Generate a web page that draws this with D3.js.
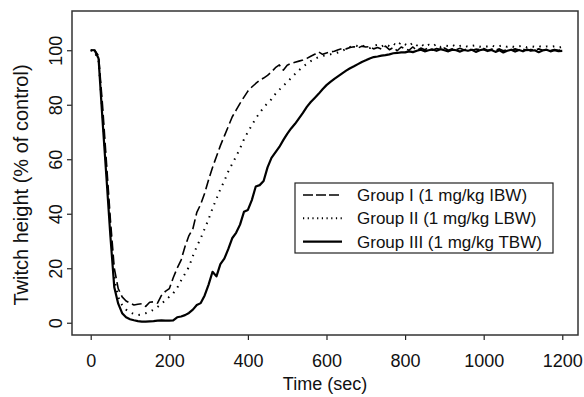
<!DOCTYPE html>
<html>
<head>
<meta charset="utf-8">
<script src="https://cdn.jsdelivr.net/npm/d3@7"></script>
<style>
  body { margin: 0; background: #fff; }
  text { font-family: "Liberation Sans", Arial, sans-serif; fill: #111; }
</style>
</head>
<body>
<div id="chart"></div>
<script>
// sampling times (sec), one reading every 10 s
const times = [
  0, 10, 20, 30, 40, 50, 60, 70, 80, 90, 100, 110, 120, 130, 140, 150, 160, 170, 180, 190,
  200, 210, 220, 230, 240, 250, 260, 270, 280, 290, 300, 310, 320, 330, 340, 350, 360, 370, 380, 390,
  400, 410, 420, 430, 440, 450, 460, 470, 480, 490, 500, 510, 520, 530, 540, 550, 560, 570, 580, 590,
  600, 610, 620, 630, 640, 650, 660, 670, 680, 690, 700, 710, 720, 730, 740, 750, 760, 770, 780, 790,
  800, 810, 820, 830, 840, 850, 860, 870, 880, 890, 900, 910, 920, 930, 940, 950, 960, 970, 980, 990,
  1000, 1010, 1020, 1030, 1040, 1050, 1060, 1070, 1080, 1090, 1100, 1110, 1120, 1130, 1140, 1150, 1160, 1170, 1180, 1190,
  1200
];

// Group I (1 mg/kg IBW) - dashed
const groupI = [
  100, 100, 98, 80, 59, 38, 20, 12.5, 9.5, 8, 7.2, 6.5, 6.8, 7, 6, 7.5, 7.7, 7.2, 10, 11.5,
  12.5, 16.5, 20, 23, 28, 32, 34.5, 40.5, 43.5, 47.5, 52.5, 57, 61, 65, 68.5, 72, 75.5, 78, 80.5, 82.8,
  85, 86.5, 87.8, 89, 89.8, 90.8, 92, 93.6, 94.6, 92.7, 94.5, 95.2, 95.6, 96, 96.4, 97, 97.8, 98.5, 99.4, 98.5,
  99, 99.4, 99.6, 100.2, 100.6, 100.5, 101, 101.3, 100.8, 101.5, 101.2, 101.3, 100.5, 101, 100.4, 101.5, 100.2, 101, 99.8, 101.2,
  100.5, 100, 101.2, 99.9, 100.8, 100.2, 100.9, 100, 100.6, 100.3, 100.8, 100, 100.5, 100.2, 100.7, 100.1, 100.6, 100, 100.4, 100.2,
  100.6, 100, 100.4, 100.1, 100.5, 99.8, 100.3, 100, 100.5, 100.1, 100.4, 99.9, 100.3, 100.1, 100.5, 100, 100.2, 99.9, 100.3, 100,
  100.2
];

// Group II (1 mg/kg LBW) - dotted
const groupII = [
  100, 99.5, 96, 77, 56, 35, 16, 9.5, 6.5, 4.8, 3.8, 3.2, 2.8, 3, 3.5, 4, 4.8, 5.8, 7, 8.2,
  9.5, 10.8, 12.8, 15.5, 18, 20.5, 24.5, 28, 31, 34.5, 38, 42, 45.5, 49, 52, 55.5, 58.3, 61, 64, 67.3,
  70, 72.5, 75, 77, 79, 80.6, 82, 84, 85.5, 87, 88.3, 89.8, 91.3, 92.7, 94, 95, 96, 96.8, 97.5, 97.9,
  98.2, 98.5, 98.8, 99.2, 99.8, 100.5, 101.2, 101.8, 101.5, 101.9, 101, 100.8, 101.7, 102, 101.3, 102.2, 101.5, 102.5, 101.5, 103,
  102.2, 101.5, 102.8, 101.8, 102.5, 101.2, 102, 101.4, 102.3, 101.2, 101.8, 101.5, 102, 101.2, 101.6, 101.9, 101.2, 101.6, 101.9, 101.3,
  101.7, 101.3, 101.8, 101.2, 101.5, 101.9, 101.2, 101.6, 101, 101.4, 101.7, 101.1, 101.5, 101.2, 101.6, 101, 101.4, 101.2, 101.5, 101,
  101.2
];

// Group III (1 mg/kg TBW) - solid
const groupIII = [
  100, 100, 97, 74.5, 53.5, 32, 13, 7, 3.5, 2, 1.3, 0.9, 0.6, 0.4, 0.4, 0.5, 0.6, 0.8, 0.9, 0.8,
  0.8, 0.9, 2, 2.3, 2.8, 3.6, 4.8, 6.5, 7.2, 10, 14, 18.7, 17, 21.5, 23.5, 27, 31, 33, 36, 40.7,
  41.4, 45, 50, 50.5, 52, 57, 60.5, 62.5, 64.5, 67, 69.3, 71.3, 73, 75, 77, 79.2, 81, 82.5, 84, 85.7,
  87.2, 88.4, 89.5, 90.5, 91.5, 92.5, 93.4, 94.1, 94.9, 95.7, 96.3, 97, 97.5, 97.7, 98, 98.2, 98.5, 98.9, 99, 99.2,
  99.2, 99.6, 99.3, 99.8, 100.2, 99.6, 100, 100.3, 99.8, 100.4, 100, 99.6, 100.2, 100, 99.5, 100.1, 99.8, 100.2, 99.4, 100,
  100.3, 99.7, 100.1, 99.4, 100, 99.2, 99.8, 100.2, 99.5, 100.1, 99.6, 100.3, 99.8, 100, 99.3, 99.9, 100.2, 99.6, 100, 99.7,
  99.8
];

const xTicks = [0, 200, 400, 600, 800, 1000, 1200];
const yTicks = [0, 20, 40, 60, 80, 100];
const labels = ["Group I (1 mg/kg IBW)", "Group II (1 mg/kg LBW)", "Group III (1 mg/kg TBW)"];

const width = 584, height = 397;
const box = { left: 72, right: 578, top: 11, bottom: 335 };

const svg = d3.select("#chart")
    .append("svg")
    .attr("width", width)
    .attr("height", height);

const x = d3.scaleLinear().domain([-47.6, 1240]).range([box.left, box.right]);
const y = d3.scaleLinear().domain([-4.5, 114.4]).range([box.bottom, box.top]);

// series styles
const series = [
    { label: labels[0], values: groupI, width: 1.6, dash: "10,4", key: "10,3" },
    { label: labels[1], values: groupII, width: 2, dash: "1.5,5.5", key: "1.2,3.5" },
    { label: labels[2], values: groupIII, width: 2.2, dash: null, key: null }
];

const line = d3.line()
    .x((d, i) => x(times[i]))
    .y(d => y(d));

svg.selectAll("path.series")
    .data(series)
    .enter()
    .append("path")
    .attr("class", "series")
    .attr("d", d => line(d.values))
    .attr("fill", "none")
    .attr("stroke", "#000")
    .attr("stroke-width", d => d.width)
    .attr("stroke-dasharray", d => d.dash)
    .attr("stroke-linejoin", "round");

// axes
const xAxis = svg.append("g")
    .attr("transform", `translate(0,${box.bottom})`)
    .call(d3.axisBottom(x).tickValues(xTicks).tickSize(5).tickPadding(14).tickFormat(d3.format("d")));

const yAxis = svg.append("g")
    .attr("transform", `translate(${box.left},0)`)
    .call(d3.axisLeft(y).tickValues(yTicks).tickSize(5).tickFormat(d3.format("d")));

[xAxis, yAxis].forEach(g => {
    g.select(".domain").remove();
    g.selectAll(".tick line").attr("stroke", "#222").attr("stroke-width", 1.2);
    g.selectAll(".tick text").style("font-size", "18px").attr("fill", "#111");
});

yAxis.selectAll(".tick text")
    .attr("x", null).attr("dy", null)
    .attr("text-anchor", "middle")
    .attr("transform", "translate(-10.3,0) rotate(-90)");

// plot frame
svg.append("rect")
    .attr("x", box.left)
    .attr("y", box.top)
    .attr("width", box.right - box.left)
    .attr("height", box.bottom - box.top)
    .attr("fill", "none")
    .attr("stroke", "#333")
    .attr("stroke-width", 1.5);

// axis titles
svg.append("text")
    .attr("x", (box.left + box.right) / 2)
    .attr("y", 390)
    .attr("text-anchor", "middle")
    .style("font-size", "18px")
    .text("Time (sec)");

svg.append("text")
    .attr("transform", `translate(28,${(box.top + box.bottom) / 2 + 12}) rotate(-90)`)
    .attr("text-anchor", "middle")
    .style("font-size", "20px")
    .text("Twitch height (% of control)");

// legend
const legend = svg.append("g");
legend.append("rect")
    .attr("x", 295).attr("y", 183)
    .attr("width", 258).attr("height", 70)
    .attr("fill", "#fff")
    .attr("stroke", "#222")
    .attr("stroke-width", 1.2);

const rows = legend.selectAll("g.row")
    .data(series)
    .enter()
    .append("g")
    .attr("class", "row")
    .attr("transform", (d, i) => `translate(0,${195 + i * 23.3})`);

rows.append("line")
    .attr("x1", 303).attr("x2", 342)
    .attr("stroke", "#000")
    .attr("stroke-width", d => d.width)
    .attr("stroke-dasharray", d => d.key);

rows.append("text")
    .attr("x", 357)
    .attr("dy", "0.35em")
    .style("font-size", "17px")
    .text(d => d.label);
</script>
</body>
</html>
